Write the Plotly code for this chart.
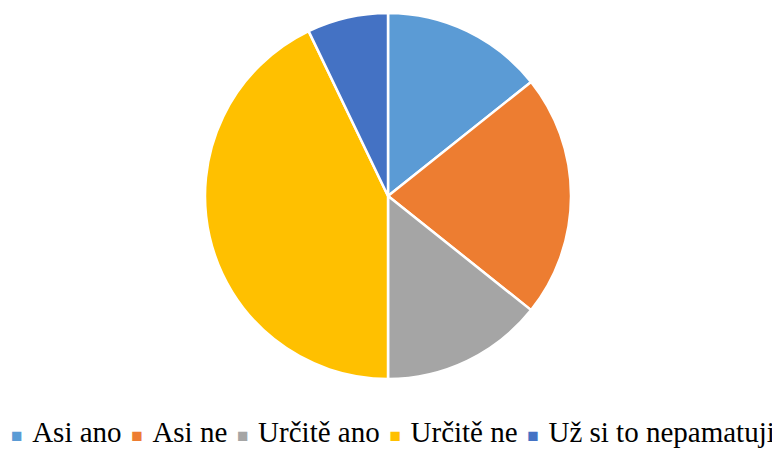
import plotly.graph_objects as go

labels = ['Asi ano', 'Asi ne', 'Určitě ano', 'Určitě ne', 'Už si to nepamatuji']
values = [2, 3, 2, 6, 1]
colors = ['#5B9BD5', '#ED7D31', '#A5A5A5', '#FFC000', '#4472C4']

fig = go.Figure()
fig.add_trace(go.Pie(labels=labels,
                     values=values,
                     sort=False,
                     direction='clockwise',
                     rotation=0,
                     textinfo='none',
                     hoverinfo='label+value+percent',
                     marker=dict(colors=colors, line=dict(color='white', width=2.5)),
                     domain=dict(x=[0, 0.9845], y=[0.1606, 0.9887])))

# legend drawn as one line of text, squares coloured per slice
gap = '&nbsp;\u200a'
parts = []
for lab, col in zip(labels, colors):
    parts.append('<span style="color:%s;font-size:19px">■</span>%s%s' % (col, gap, lab))
legend_text = gap.join(parts)

fig.add_annotation(text=legend_text,
                   x=0.499, y=0.04,
                   xref='paper', yref='paper',
                   xanchor='center', yanchor='middle',
                   showarrow=False,
                   font=dict(family='Liberation Serif, Times New Roman, serif', size=29, color='#000000'))

# page has an 8px body margin, so the figure is a bit smaller than the window
fig.update_layout(width=772, height=442,
                  margin=dict(l=0, r=0, t=0, b=0),
                  showlegend=False,
                  paper_bgcolor='white',
                  plot_bgcolor='white')

fig.write_html("out.html")
